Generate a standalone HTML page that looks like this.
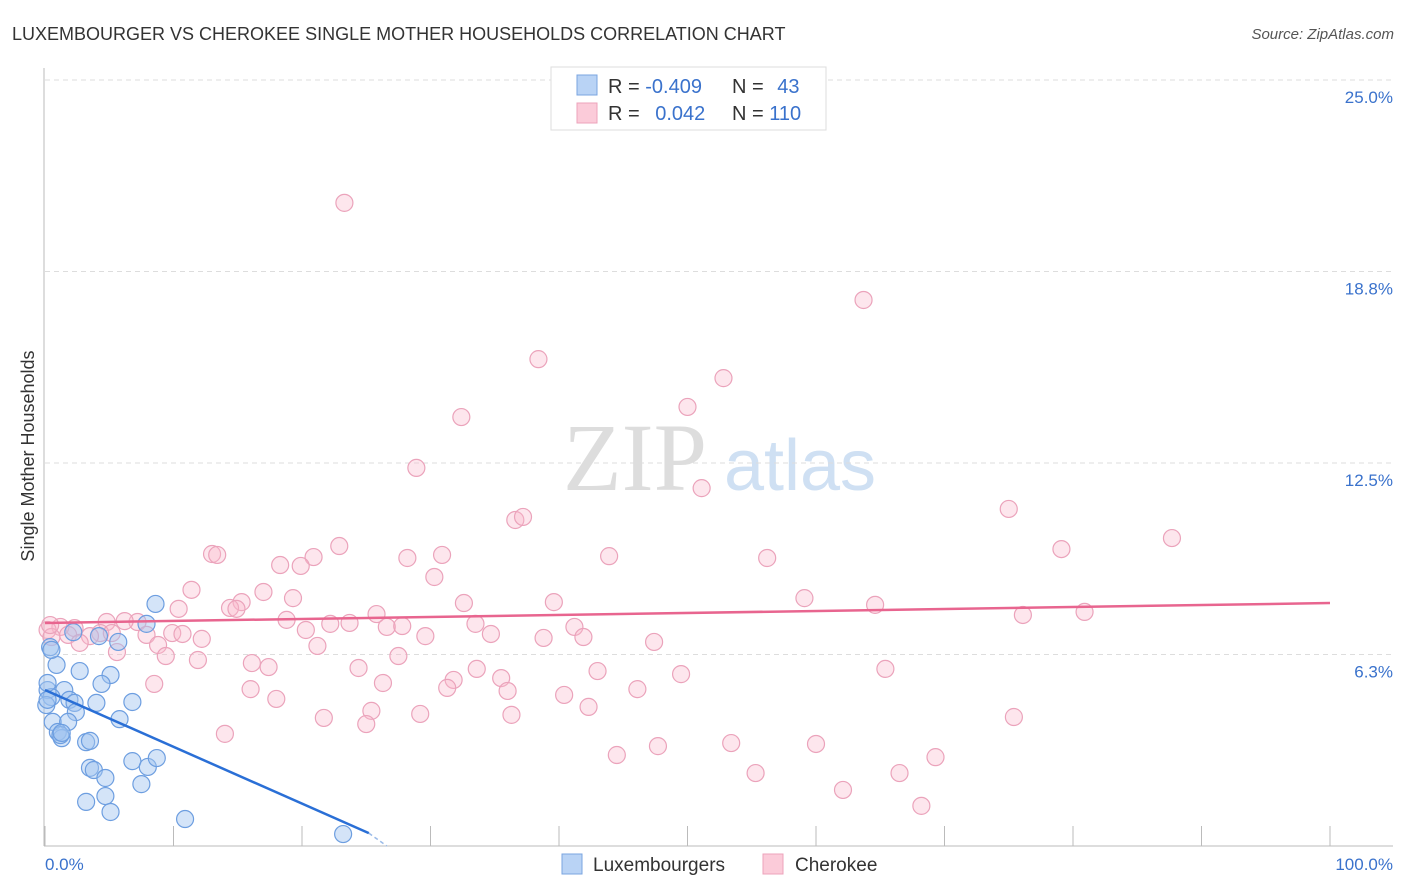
<!DOCTYPE html>
<html><head><meta charset="utf-8"><style>
body{margin:0;background:#fff;font-family:"Liberation Sans",sans-serif;}
svg{display:block}
</style></head><body>
<svg id="chart" width="1406" height="892" xmlns="http://www.w3.org/2000/svg">
<text x="12" y="40" font-size="18" fill="#333">LUXEMBOURGER VS CHEROKEE SINGLE MOTHER HOUSEHOLDS CORRELATION CHART</text>
<text x="1394" y="39" font-size="15" fill="#555" text-anchor="end" font-style="italic">Source: ZipAtlas.com</text>
<text transform="translate(34,456) rotate(-90)" font-size="18" fill="#333" text-anchor="middle">Single Mother Households</text>
<g>
<text x="635" y="490" font-size="96" fill="#ddd" text-anchor="middle" font-family="Liberation Serif,serif">ZIP</text>
<text x="800" y="490" font-size="72" fill="#cfe0f3" text-anchor="middle">atlas</text>
</g>
<g id="grid"></g><g id="axes"></g><g id="pink"></g><g id="blue"></g><g id="lines"></g>
<g>
<rect x="551" y="67" width="275" height="63" fill="#fff" stroke="#ddd"/>
<rect x="577" y="75" width="20" height="20" fill="#b9d3f5" stroke="#7aa5e0"/>
<rect x="577" y="103" width="20" height="20" fill="#fbcbd9" stroke="#eda3bb"/>
<text x="608" y="93" font-size="20" fill="#333">R = <tspan fill="#3a72cc">-0.409</tspan></text>
<text x="732" y="93" font-size="20" fill="#333">N = <tspan fill="#3a72cc" dx="8">43</tspan></text>
<text x="608" y="120" font-size="20" fill="#333">R = <tspan fill="#3a72cc" dx="10">0.042</tspan></text>
<text x="732" y="120" font-size="20" fill="#333">N = <tspan fill="#3a72cc">110</tspan></text>
</g>
<g>
<rect x="562" y="854" width="20" height="20" fill="#b9d3f5" stroke="#7aa5e0"/>
<text x="593" y="871" font-size="19" fill="#333">Luxembourgers</text>
<rect x="763" y="854" width="20" height="20" fill="#fbcbd9" stroke="#eda3bb"/>
<text x="795" y="871" font-size="19" fill="#333">Cherokee</text>
</g>
</svg>
<script>
const yTicks=[6.25,12.5,18.75,25];
const yTickLabels=["6.3%","12.5%","18.8%","25.0%"];
const xTicks=[0,10,20,30,40,50,60,70,80,90,100];
const xEndLabels=["0.0%","100.0%"];
const blueX=[8.6,7.9,5.7,4.2,2.2,0.4,0.9,2.7,5.1,1.5,0.2,0.5,1.9,2.3,4.0,6.8,4.4,2.4,0.6,1.8,5.8,1.0,1.3,3.2,3.5,6.8,8.0,8.7,3.5,3.8,4.7,7.5,3.2,4.7,5.1,10.9,23.2,0.2,1.2,0.1,0.5,0.2,1.3];
const blueY=[7.9,7.25,6.66,6.85,6.98,6.49,5.91,5.71,5.58,5.09,5.09,4.86,4.77,4.67,4.67,4.70,5.29,4.37,4.05,4.05,4.14,3.72,3.52,3.39,3.43,2.77,2.58,2.87,2.55,2.48,2.22,2.02,1.44,1.63,1.11,0.88,0.39,5.32,3.62,4.6,6.4,4.77,3.69];
const pinkX=[23.3,63.7,38.4,52.8,50.0,32.4,28.9,51.1,36.6,37.2,75.0,87.7,79.1,13.0,13.4,22.9,20.9,18.3,19.9,30.9,28.2,43.9,56.2,30.3,11.4,17.0,19.3,15.3,14.4,14.9,10.4,32.6,39.6,59.1,64.6,25.8,76.1,80.9,18.8,22.2,23.7,26.6,27.8,33.5,41.2,7.2,6.2,4.8,2.3,1.2,0.2,4.3,5.2,1.8,3.5,7.9,9.9,10.7,12.2,20.3,29.6,34.7,38.8,41.9,47.4,8.8,5.6,2.7,9.4,11.9,21.2,27.5,0.5,0.4,16.1,17.4,24.4,33.6,43.0,49.5,65.4,8.5,26.3,31.8,31.3,35.5,36.0,46.1,16.0,18.0,40.4,42.3,29.2,25.4,36.3,21.7,25.0,75.4,14.0,47.7,53.4,60.0,44.5,69.3,55.3,66.5,62.1,68.2];
const pinkY=[20.99,17.82,15.89,15.27,14.33,14.0,12.34,11.68,10.64,10.74,11.0,10.05,9.69,9.53,9.5,9.79,9.43,9.17,9.14,9.5,9.4,9.46,9.4,8.78,8.36,8.29,8.09,7.96,7.77,7.74,7.74,7.93,7.96,8.09,7.87,7.57,7.54,7.64,7.38,7.25,7.28,7.15,7.18,7.25,7.15,7.31,7.34,7.31,7.11,7.15,7.05,6.95,6.95,6.89,6.85,6.89,6.95,6.92,6.76,7.05,6.85,6.92,6.79,6.82,6.66,6.56,6.33,6.63,6.2,6.07,6.53,6.2,6.82,7.21,5.97,5.84,5.81,5.78,5.71,5.61,5.78,5.29,5.32,5.42,5.16,5.48,5.06,5.12,5.12,4.80,4.93,4.54,4.31,4.41,4.28,4.18,3.98,4.21,3.66,3.26,3.36,3.33,2.97,2.9,2.38,2.38,1.83,1.31];
const blueTrend=[0,5.09,25.2,0.42,26.6,0.0];
const pinkTrend=[0,7.28,100,7.93];
const X=v=>45+v*12.85, Y=v=>846-v*30.64;
const NS="http://www.w3.org/2000/svg";
function mk(tag,parent,attrs){const e=document.createElementNS(NS,tag);for(const k in attrs)e.setAttribute(k,attrs[k]);document.getElementById(parent).appendChild(e);return e;}
yTicks.forEach((t,i)=>{
 const l=mk('line','grid',{x1:45,x2:1393,y1:Y(t),y2:Y(t),stroke:'#ddd','stroke-dasharray':'5,4'});
 
 
 const tx=mk('text','grid',{x:1393,y:Y(t)+23,'font-size':17,fill:'#3a72cc','text-anchor':'end'});
 tx.textContent=yTickLabels[i];
 
 
});
const ax=mk('line','axes',{x1:44,x2:44,y1:68,y2:846,stroke:'#bbb'});


const bx=mk('line','axes',{x1:44,x2:1393,y1:846,y2:846,stroke:'#bbb'});


xTicks.forEach(t=>{
 const l=mk('line','axes',{x1:X(t),x2:X(t),y1:826,y2:846,stroke:'#bbb'});
 
 
});
const xl0=mk('text','axes',{x:45,y:870,'font-size':17,fill:'#3a72cc'});xl0.textContent=xEndLabels[0];


const xl1=mk('text','axes',{x:1393,y:870,'font-size':17,fill:'#3a72cc','text-anchor':'end'});xl1.textContent=xEndLabels[1];


pinkX.forEach((v,i)=>{
 const c=mk('circle','pink',{cx:X(v),cy:Y(pinkY[i]),r:8.5,fill:'rgba(248,182,202,0.35)',stroke:'#eba3bb','stroke-width':1.2});
 
 
});
blueX.forEach((v,i)=>{
 const c=mk('circle','blue',{cx:X(v),cy:Y(blueY[i]),r:8.5,fill:'rgba(160,195,240,0.45)',stroke:'#6d9ee0','stroke-width':1.2});
 
 
});
const pl=mk('line','lines',{x1:X(pinkTrend[0]),y1:Y(pinkTrend[1]),x2:X(pinkTrend[2]),y2:Y(pinkTrend[3]),stroke:'#e8658f','stroke-width':2.5});


const bl=mk('line','lines',{x1:X(blueTrend[0]),y1:Y(blueTrend[1]),x2:X(blueTrend[2]),y2:Y(blueTrend[3]),stroke:'#2a6fd6','stroke-width':2.5});


const bd=mk('line','lines',{x1:X(blueTrend[2]),y1:Y(blueTrend[3]),x2:X(blueTrend[4]),y2:Y(blueTrend[5]),stroke:'#9bbbe8','stroke-width':1.5,'stroke-dasharray':'4,3'});


</script>
</body></html>
